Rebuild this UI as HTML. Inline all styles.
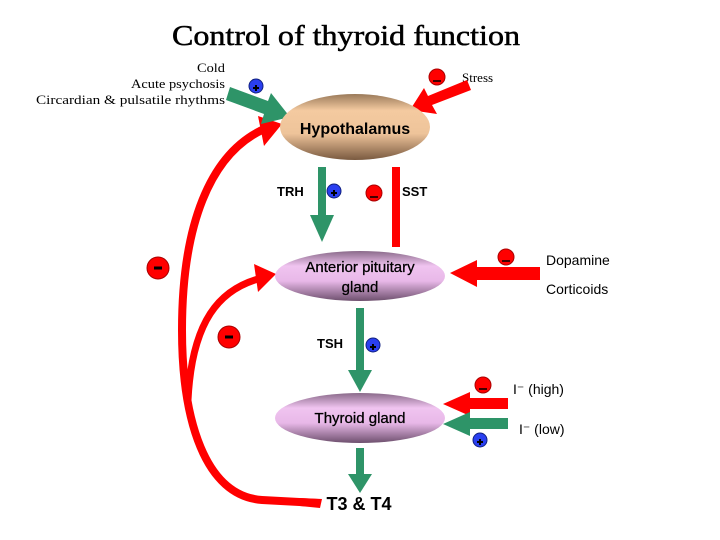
<!DOCTYPE html>
<html><head><style>body{margin:0;background:#fff}svg{display:block}</style></head><body>
<svg width="720" height="540" viewBox="0 0 720 540" xmlns="http://www.w3.org/2000/svg">
<defs>
<linearGradient id="tan" x1="0" y1="0" x2="0" y2="1"><stop offset="0" stop-color="#9a7a5a"/><stop offset="0.25" stop-color="#f4caa0"/><stop offset="0.6" stop-color="#eec49a"/><stop offset="1" stop-color="#7a5a40"/></linearGradient>
<linearGradient id="pink" x1="0" y1="0" x2="0" y2="1"><stop offset="0" stop-color="#8a6a8a"/><stop offset="0.3" stop-color="#f0c4f0"/><stop offset="0.6" stop-color="#e8b8e8"/><stop offset="1" stop-color="#6e506e"/></linearGradient>
</defs>
<text x="172" y="45" font-family="Liberation Serif,serif" font-size="29" textLength="348" lengthAdjust="spacingAndGlyphs" stroke="#000" stroke-width="0.5">Control of thyroid function</text>
<g font-family="Liberation Serif,serif" font-size="13">
<text x="197" y="72" textLength="28" lengthAdjust="spacingAndGlyphs">Cold</text>
<text x="131" y="88" textLength="94" lengthAdjust="spacingAndGlyphs">Acute psychosis</text>
<text x="36" y="104" textLength="189" lengthAdjust="spacingAndGlyphs">Circardian &amp; pulsatile rhythms</text></g>
<text x="462" y="82" font-family="Liberation Serif,serif" font-size="13">Stress</text>
<path d="M318,503 L262,500 C205,496 182,420 182,330 C182,225 210,155 262,130" fill="none" stroke="#f00" stroke-width="8"/>
<polygon points="282,124 258,116 264,146" fill="#f00"/>
<path d="M188,400 C192,320 220,290 258,279" fill="none" stroke="#f00" stroke-width="7"/>
<polygon points="276,274 254,264 258,292" fill="#f00"/>
<path d="M300,498 L322,499 L320,508 L300,506Z" fill="#f00"/>
<polygon points="230,87 268,101 271,93 290,117 261,124 264,114 226,100" fill="#2e9468"/>
<polygon points="467,80 428,96 424,88 410,110 437,114 432,105 471,90" fill="#f00"/>
<ellipse cx="355" cy="127" rx="75" ry="33" fill="url(#tan)"/>
<text x="355" y="134" font-family="Liberation Sans,sans-serif" font-size="16" font-weight="bold" text-anchor="middle">Hypothalamus</text>
<rect x="318" y="167" width="8" height="50" fill="#2e9468"/>
<polygon points="310,215 334,215 322,242" fill="#2e9468"/>
<rect x="392" y="167" width="8" height="80" fill="#f00"/>
<g font-family="Liberation Sans,sans-serif" font-size="13" font-weight="bold">
<text x="277" y="196">TRH</text><text x="402" y="196">SST</text><text x="317" y="348">TSH</text></g>
<ellipse cx="360" cy="276" rx="85" ry="25" fill="url(#pink)"/>
<g font-family="Liberation Sans,sans-serif" font-size="15" text-anchor="middle" stroke="#000" stroke-width="0.3">
<text x="360" y="272">Anterior pituitary</text>
<text x="360" y="292">gland</text>
<text x="360" y="423">Thyroid gland</text></g>
<rect x="475" y="267" width="65" height="13" fill="#f00"/>
<polygon points="450,273 477,260 477,287" fill="#f00"/>
<g font-family="Liberation Sans,sans-serif" font-size="14">
<text x="546" y="265">Dopamine</text><text x="546" y="294">Corticoids</text>
<text x="513" y="394">I⁻ (high)</text><text x="519" y="434">I⁻ (low)</text></g>
<rect x="356" y="308" width="8" height="64" fill="#2e9468"/>
<polygon points="348,370 372,370 360,392" fill="#2e9468"/>
<ellipse cx="360" cy="418" rx="85" ry="25" fill="url(#pink)" style="mix-blend-mode:multiply"/>
<rect x="468" y="398" width="40" height="11" fill="#f00"/>
<polygon points="443,404 470,392 470,416" fill="#f00"/>
<rect x="468" y="418" width="40" height="11" fill="#2e9468"/>
<polygon points="443,424 470,412 470,436" fill="#2e9468"/>
<rect x="356" y="448" width="8" height="28" fill="#2e9468"/>
<polygon points="348,474 372,474 360,493" fill="#2e9468"/>
<text x="359" y="510" font-family="Liberation Sans,sans-serif" font-size="18" font-weight="bold" text-anchor="middle">T3 &amp; T4</text>
<g stroke="#a00" stroke-width="1" fill="#f00">
<circle cx="437" cy="77" r="8"/><circle cx="374" cy="193" r="8"/><circle cx="506" cy="257" r="8"/><circle cx="483" cy="385" r="8"/>
<circle cx="158" cy="268" r="11"/><circle cx="229" cy="337" r="11"/></g>
<g stroke="#000" stroke-width="1.5">
<line x1="433" y1="81" x2="441" y2="81"/><line x1="370" y1="197" x2="378" y2="197"/><line x1="502" y1="261" x2="510" y2="261"/><line x1="479" y1="389" x2="487" y2="389"/></g>
<g stroke="#000" stroke-width="3"><line x1="154" y1="268" x2="162" y2="268"/><line x1="225" y1="337" x2="233" y2="337"/></g>
<g fill="#2a3ff0" stroke="#102080"><circle cx="256" cy="86" r="7"/><circle cx="334" cy="191" r="7"/><circle cx="373" cy="345" r="7"/><circle cx="480" cy="440" r="7"/></g>
<g stroke="#000" stroke-width="2">
<path d="M253,88h6M256,85v6"/><path d="M331,193h6M334,190v6"/><path d="M370,347h6M373,344v6"/><path d="M477,442h6M480,439v6"/></g>
</svg>
</body></html>
